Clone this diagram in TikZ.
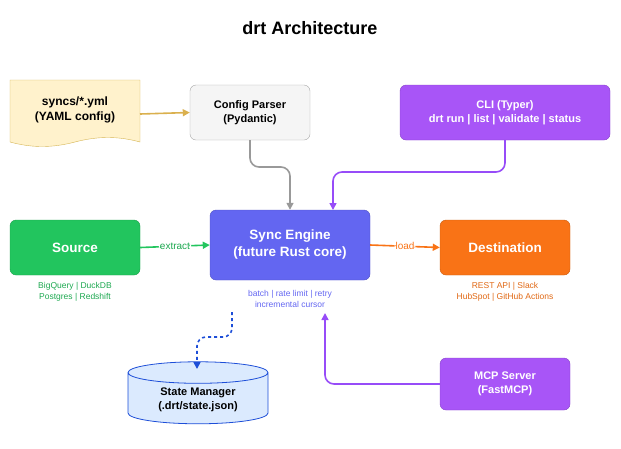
\documentclass[tikz,border=0pt]{standalone}
\usepackage{fontspec}
\setmainfont{Liberation Sans}
\usetikzlibrary{positioning, arrows.meta, shapes.geometric, calc}
\definecolor{srcgreen}{HTML}{22C55E}
\definecolor{engblue}{HTML}{6366F1}
\definecolor{dstorange}{HTML}{F97316}
\definecolor{clipurple}{HTML}{A855F7}
\definecolor{yamlfill}{HTML}{FFF2CC}
\definecolor{yamlline}{HTML}{D6B656}
\definecolor{stateblue}{HTML}{1D4ED8}
\definecolor{statefill}{HTML}{DBEAFE}
\tikzset{
  box/.style={draw, rounded corners=6pt, align=center, font=\bfseries\fontsize{11}{14}\selectfont},
  solid box/.style={box, text=white, font=\bfseries\fontsize{13.5}{17}\selectfont},
  note/.style={align=center, font=\fontsize{8.5}{11}\selectfont},
  link/.style={-{Triangle[length=7pt,width=7pt]}, line width=1.6pt, rounded corners=9pt},
}
\begin{document}
\begin{tikzpicture}[x=1pt, y=-1pt]
        \useasboundingbox (0,0) rectangle (621,448);
        \node[font=\bfseries\fontsize{18}{20}\selectfont] (title) at (310,28) {drt Architecture};

        % YAML document with wavy bottom
        \draw[yamlline, fill=yamlfill] (10,80) -- (140,80) -- (140,142)
            .. controls (118,136) and (98,136) .. (75,142)
            .. controls (52,148) and (32,148) .. (10,142) -- cycle;
        \node[font=\bfseries\fontsize{12}{15}\selectfont, align=center] (yaml) at (75,110) {syncs/*.yml\\(YAML config)};
        \coordinate (yamlR) at (140,114);

        % Boxes
        \node[box, draw=gray!70, fill=gray!8, minimum width=120pt, minimum height=55pt] (parser) at (250,112.5) {Config Parser\\(Pydantic)};
        \node[solid box, draw=clipurple!80!black, fill=clipurple, minimum width=210pt, minimum height=55pt, font=\bfseries\fontsize{11}{14}\selectfont] (cli) at (505,112.5) {CLI (Typer)\\drt run | list | validate | status};
        \node[solid box, draw=srcgreen!80!black, fill=srcgreen, minimum width=130pt, minimum height=55pt] (source) at (75,247.5) {Source};
        \node[solid box, draw=engblue!80!black, fill=engblue, minimum width=160pt, minimum height=70pt] (engine) at (290,245) {Sync Engine\\(future Rust core)};
        \node[solid box, draw=dstorange!80!black, fill=dstorange, minimum width=130pt, minimum height=55pt] (dest) at (505,247.5) {Destination};
        \node[solid box, draw=clipurple!80!black, fill=clipurple, minimum width=130pt, minimum height=52pt, font=\bfseries\fontsize{11}{14}\selectfont] (mcp) at (505,384) {MCP Server\\(FastMCP)};
        \node[cylinder, shape border rotate=90, aspect=0.25, draw=stateblue, line width=0.8pt, fill=statefill, minimum width=140pt, minimum height=62pt, align=center, font=\bfseries\fontsize{11}{14}\selectfont] (state) at (198,400) {State Manager\\(.drt/state.json)};

        % Notes under boxes
        \node[note, text=srcgreen!85!black] (srcnote) at (75,292) {BigQuery | DuckDB\\Postgres | Redshift};
        \node[note, text=engblue] (engnote) at (290,299) {batch | rate limit | retry\\incremental cursor};
        \node[note, text=dstorange!90!black] (dstnote) at (505,292) {REST API | Slack\\HubSpot | GitHub Actions};

        % Connectors
        \draw[link, yamlline!90!orange] (yamlR) -- (parser.west);
        \draw[link, gray!80] (parser.south) |- (290,167) -- (engine.north);
        \draw[link, clipurple!90!blue] (cli.south) |- (333,172) -- (333,210);
        \draw[link, srcgreen] (source.east) -- node[fill=white, inner sep=1pt, font=\fontsize{10}{12}\selectfont, text=srcgreen!85!black] {extract} (engine.west);
        \draw[link, dstorange] (engine.east) -- node[fill=white, inner sep=1pt, font=\fontsize{10}{12}\selectfont, text=dstorange] {load} (dest.west);
        \draw[link, dashed, stateblue] (232,312) |- (197,337) -- (197,369);
        \draw[link, clipurple!90!blue] (mcp.west) -| (325,313);
\end{tikzpicture}
\end{document}
